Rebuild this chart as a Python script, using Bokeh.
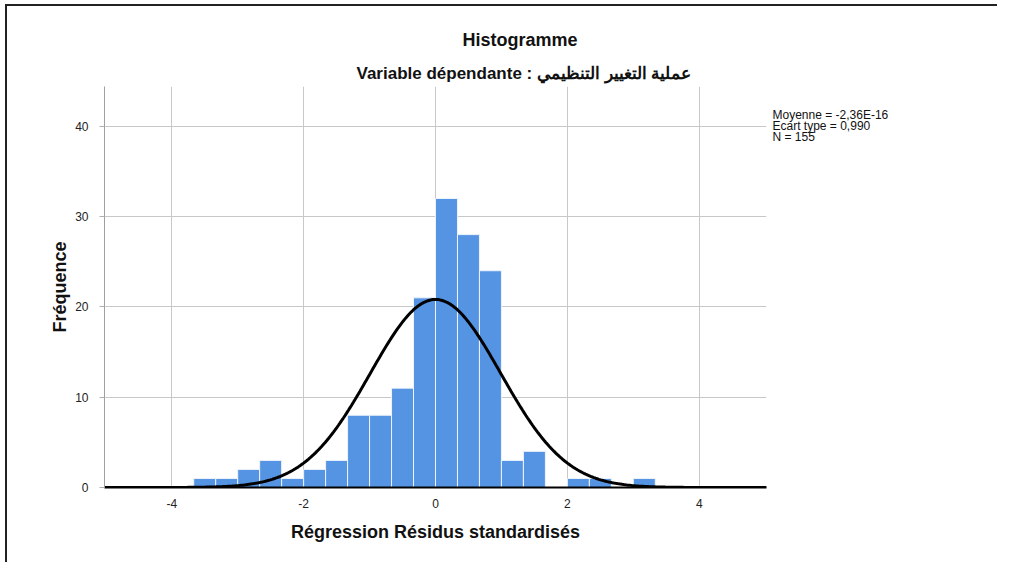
import numpy as np
from bokeh.plotting import figure
from bokeh.models import Range1d, FixedTicker, Title, LinearAxis
from bokeh.embed import file_html
from bokeh.resources import INLINE

# ---- data ----
bin_left = [-11/3, -10/3, -3.0, -8/3, -7/3, -2.0, -5/3, -4/3, -1.0, -2/3, -1/3,
            0.0, 1/3, 2/3, 1.0, 4/3, 5/3, 2.0, 7/3, 8/3, 3.0]
counts = [1, 1, 2, 3, 1, 2, 3, 8, 8, 11, 21, 32, 28, 24, 3, 4, 0, 1, 1, 0, 1]
bin_width = 1/3
mean_val = -2.36e-16
sd_val = 0.990
n_val = 155
stats_lines = ["Moyenne = -2,36E-16", "Ecart type = 0,990", "N = 155"]
x_ticks = [-4, -2, 0, 2, 4]
y_ticks = [0, 10, 20, 30, 40]

FONT = "Liberation Sans"

p = figure(width=992, height=558, output_backend="svg", toolbar_location=None,
           x_range=Range1d(-5.02, 5.02), y_range=Range1d(0, 44.4),
           min_border_left=97, min_border_right=233, min_border_top=80, min_border_bottom=77)
p.margin = (6, 0, 0, 7)
p.styles = {"box-shadow": "-2px -2px 0 0 #222"}
p.outline_line_color = None
p.background_fill_color = "white"

lefts = np.array(bin_left)
p.quad(left=lefts, right=lefts + bin_width, bottom=0, top=counts,
       fill_color="#5593e3", line_color="#eef3fb", line_width=1)

xs = np.linspace(-5.02, 5.02, 400)
ys = n_val * bin_width / (sd_val * np.sqrt(2 * np.pi)) * np.exp(-0.5 * ((xs - mean_val) / sd_val) ** 2)
p.line(xs, ys, line_color="black", line_width=3)

# axes
p.xaxis.ticker = FixedTicker(ticks=x_ticks)
p.yaxis.ticker = FixedTicker(ticks=y_ticks)
p.xaxis.major_label_overrides = {t: str(t) for t in x_ticks}
p.xaxis.minor_tick_line_color = None
p.yaxis.minor_tick_line_color = None
p.xaxis.major_tick_line_color = None
p.yaxis.major_tick_line_color = "#b0b0b0"
p.yaxis.major_tick_out = 5
p.yaxis.major_tick_in = 0
p.xaxis.axis_line_color = "black"
p.xaxis.axis_line_width = 2
p.yaxis.axis_line_color = "#a0a0a0"
for ax in (p.xaxis, p.yaxis):
    ax.major_label_text_font = FONT
    ax.major_label_text_font_size = "12px"
    ax.major_label_text_color = "#222"
    ax.axis_label_text_font = FONT
    ax.axis_label_text_font_size = "18px"
    ax.axis_label_text_font_style = "bold"
    ax.axis_label_text_color = "#111"
p.xaxis.major_label_standoff = 5
p.yaxis.major_label_standoff = 11
p.xaxis.axis_label = "Régression Résidus standardisés"
p.yaxis.axis_label = "Fréquence"
p.xaxis.axis_label_standoff = 11
p.yaxis.axis_label_standoff = 2

p.xgrid.ticker = FixedTicker(ticks=x_ticks)
p.ygrid.ticker = FixedTicker(ticks=[10, 20, 30, 40])
p.xgrid.grid_line_color = "#c8c8c8"
p.ygrid.grid_line_color = "#c8c8c8"

# stats text, as labels of a bare right-hand axis (pixel-scale extra range)
p.extra_y_ranges = {"stats": Range1d(0, 401)}
stats_ticks = [373, 362, 351]
stats_axis = LinearAxis(y_range_name="stats", ticker=FixedTicker(ticks=stats_ticks),
                        major_label_overrides=dict(zip(stats_ticks, stats_lines)),
                        axis_line_color=None, major_tick_line_color=None,
                        minor_tick_line_color=None, major_tick_out=0, major_tick_in=0,
                        major_label_standoff=6, major_label_text_font=FONT,
                        major_label_text_font_size="12px", major_label_text_color="#111")
p.add_layout(stats_axis, "right")

# titles
p.add_layout(Title(text="Variable dépendante : عملية التغيير التنظيمي", align="left",
                   offset=252, standoff=8, text_font=FONT, text_font_size="17px",
                   text_font_style="bold", text_color="#111"), "above")
p.add_layout(Title(text="Histogramme", align="left", offset=358, standoff=16,
                   text_font=FONT, text_font_size="18px",
                   text_font_style="bold", text_color="#111"), "above")

open("out.html", "w").write(file_html(p, INLINE))
